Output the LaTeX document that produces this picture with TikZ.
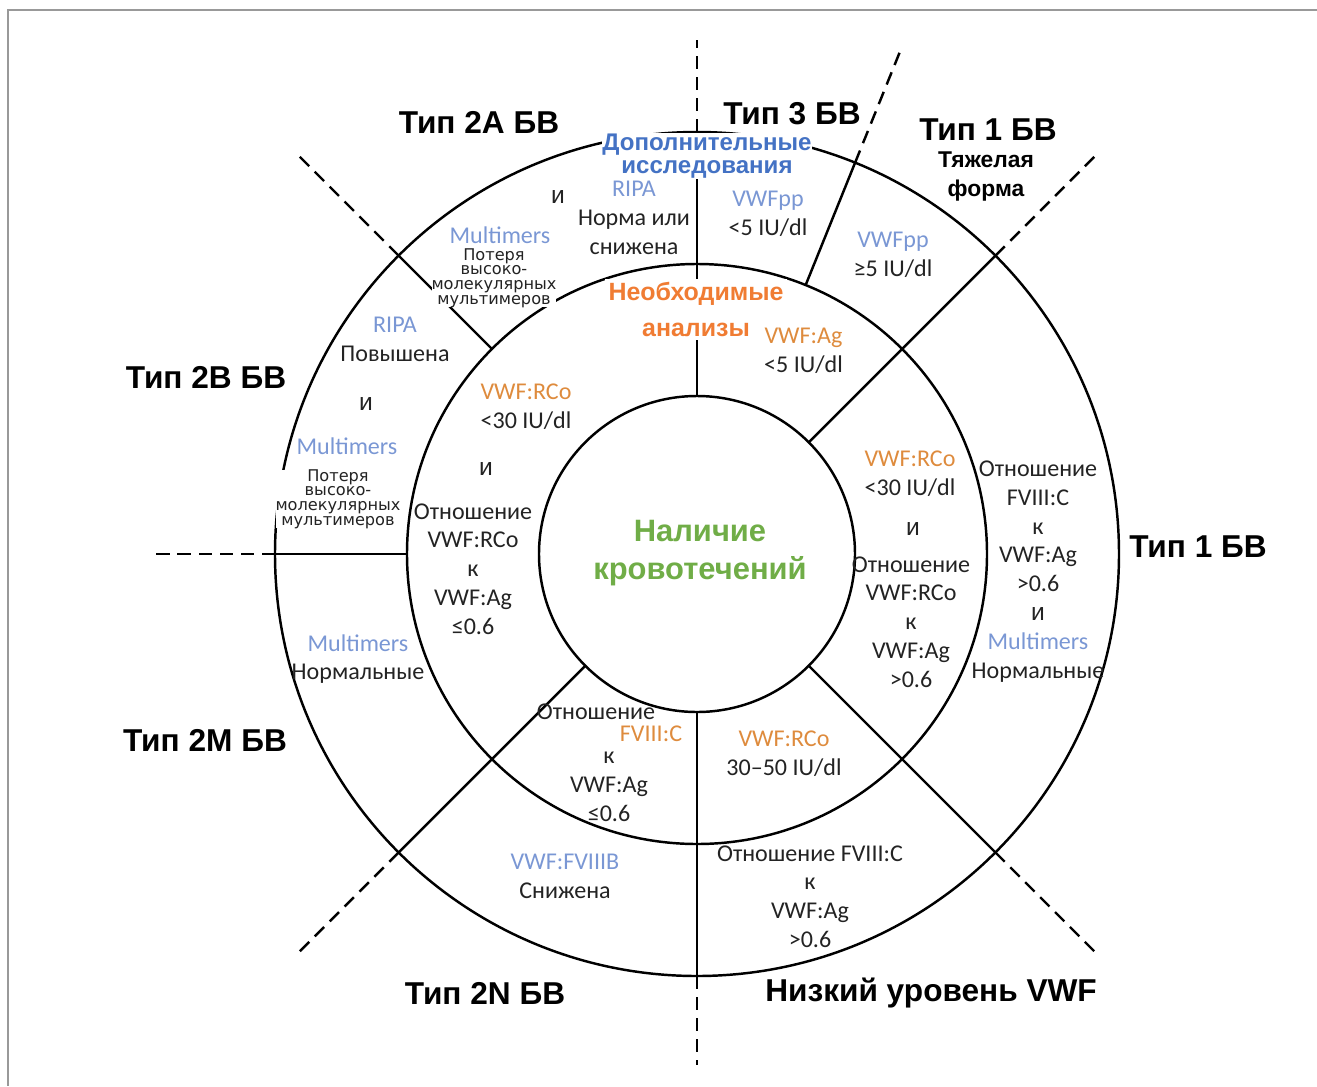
\documentclass[tikz,border=0pt]{standalone}
\usepackage{fontspec}
\setmainfont{Carlito}
\newfontfamily\hdfont{Liberation Sans}
\newfontfamily\smfont{DejaVu Sans}
\definecolor{txt}{RGB}{35,35,35}
\definecolor{mblue}{RGB}{122,151,212}
\definecolor{morange}{RGB}{222,139,61}
\definecolor{hblue}{RGB}{68,114,196}
\definecolor{horange}{RGB}{240,124,51}
\definecolor{hgreen}{RGB}{112,173,71}
\newcommand{\mb}[1]{\textcolor{mblue}{#1}}
\newcommand{\mo}[1]{\textcolor{morange}{#1}}
\newcommand{\ii}{{\hdfont\fontsize{14}{16}\selectfont и}}
\begin{document}
\begin{tikzpicture}[x=0.02cm,y=0.02cm,
  every node/.style={font=\fontsize{13.7}{16.4}\selectfont,text=txt,align=center,inner sep=1pt},
  ring/.style={line width=1.4pt},
  dsh/.style={line width=1.4pt,dash pattern=on 7.5pt off 4.5pt},
  hd/.style={font=\hdfont\bfseries\fontsize{18}{20}\selectfont,text=black},
  sm/.style={font=\smfont\fontsize{9.2}{8.3}\selectfont,fill=white,inner sep=0pt},
  cover/.style={fill=white,inner sep=0.5pt}]
\useasboundingbox (-697,-532) rectangle (620,554);
\draw[gray!80,line width=1.1pt] (620,544) -- (-689,544) -- (-689,-532);
% rings
\draw[ring] (0,0) circle (158) (0,0) circle (290) (0,0) circle (422);
% sector borders
\foreach \a in {45,-45,-135} {\draw[ring] (\a:158) -- (\a:422); \draw[dsh] (\a:422) -- (\a:567);}
\draw[ring] (90:158) -- (90:422); \draw[dsh] (90:422) -- (90:514);
\draw[ring] (-90:158) -- (-90:422); \draw[dsh] (-90:422) -- (-90:511);
\draw[ring] (135:290) -- (135:422); \draw[dsh] (135:422) -- (135:568);
\draw[ring] (68:290) -- (68:422); \draw[dsh] (68:422) -- (68:545);
\draw[ring] (180:290) -- (180:422); \draw[dsh] (180:422) -- (180:542);
% headings
\node[cover,font=\hdfont\bfseries\fontsize{13.7}{13.2}\selectfont,text=hblue] (extra) at (10,398) {Дополнительные\\исследования};
\node[cover,inner sep=2pt,font=\hdfont\bfseries\fontsize{14.2}{20}\selectfont,text=horange] (need) at (-1,244.5) {Необходимые\\анализы};
\node[font=\hdfont\bfseries\fontsize{17.6}{21.6}\selectfont,text=hgreen] (bleed) at (3,1) {Наличие\\кровотечений};
% types
\node[hd] (t2a) at (-218,432) {Тип 2A БВ};
\node[hd] (t3) at (95,440) {Тип 3 БВ};
\node[hd] (t1s) at (291,424) {Тип 1 БВ};
\node[hd,font=\hdfont\bfseries\fontsize{13}{16.5}\selectfont] (sev) at (289,377.5) {Тяжелая\\форма};
\node[hd] (t2b) at (-491,177) {Тип 2B БВ};
\node[hd] (t1) at (501,7) {Тип 1 БВ};
\node[hd] (t2m) at (-492,-186) {Тип 2M БВ};
\node[hd] (t2n) at (-212,-439) {Тип 2N БВ};
\node[hd] (low) at (234,-439) {Низкий уровень VWF};
% outer ring
\node (and2a) at (-139,357) {\ii};
\node (ripa2a) at (-63,336) {\mb{RIPA}\\Норма или\\снижена};
\node (mult2a) at (-197,319) {\mb{Multimers}};
\node[sm] (loss2a) at (-203,276) {Потеря\\высоко-\\молекулярных\\мультимеров};
\node (pp3) at (71,340) {\mb{VWFpp}\\<5 IU/dl};
\node (pp1) at (196,299.5) {\mb{VWFpp}\\≥5 IU/dl};
\node (ripa2b) at (-302,214.5) {\mb{RIPA}\\Повышена};
\node (and2b) at (-331,150) {\ii};
\node (mult2b) at (-350,108) {\mb{Multimers}};
\node[sm] (loss2b) at (-359,55) {Потеря\\высоко-\\молекулярных\\мультимеров};
\node (mult2m) at (-339,-105) {\mb{Multimers}\\Нормальные};
\node (rat1) at (341,-17.5) {Отношение\\FVIII:C\\к\\VWF:Ag\\>0.6\\\ii\\\mb{Multimers}\\Нормальные};
\node (fviiib) at (-132,-322) {\mb{VWF:FVIIIB}\\Снижена};
\node (ratlow) at (113,-342.5) {Отношение FVIII:C\\к\\VWF:Ag\\>0.6};
% inner ring
\node (ag3) at (106.5,203.5) {\mo{VWF:Ag}\\<5 IU/dl};
\node (rco2) at (-171,147) {\mo{VWF:RCo}\\<30 IU/dl};
\node (and2) at (-211,85) {\ii};
\node (rat2) at (-224,-15) {Отношение\\VWF:RCo\\к\\VWF:Ag\\≤0.6};
\node (rco1) at (213,80) {\mo{VWF:RCo}\\<30 IU/dl};
\node (and1) at (216,25) {\ii};
\node (rat1i) at (214,-68) {Отношение\\VWF:RCo\\к\\VWF:Ag\\>0.6};
\node (rat2n) at (-101,-158) {Отношение};
\node (fviii) at (-46,-180) {\mo{FVIII:C}};
\node (rat2nb) at (-88,-233) {к\\VWF:Ag\\≤0.6};
\node (rcolow) at (87,-199.5) {\mo{VWF:RCo}\\30–50 IU/dl};
\end{tikzpicture}
\end{document}
